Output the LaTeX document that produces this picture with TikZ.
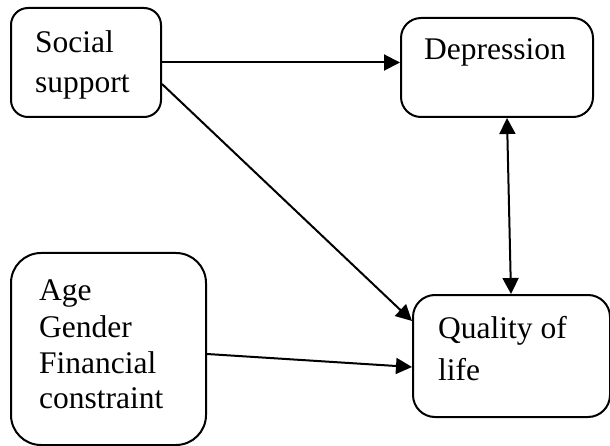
\documentclass[tikz,border=0pt]{standalone}
\usepackage{fontspec}
\setmainfont{Liberation Serif}
\usetikzlibrary{arrows.meta}
\begin{document}
\begin{tikzpicture}[x=1pt,y=-1pt,
  box/.style={draw=black,line width=2pt,inner sep=0pt,anchor=north west},
  txt/.style={anchor=base west,inner sep=0pt,font=\fontsize{31.5}{40}\selectfont},
  conn/.style={line width=2pt,-{Triangle[length=16pt,width=16pt]}},
  conn2/.style={line width=2pt,{Triangle[length=16pt,width=16pt]}-{Triangle[length=16pt,width=16pt]}}]
\useasboundingbox (0,0) rectangle (610,446);
% boxes
\node[box,minimum width=150pt,minimum height=109pt,rounded corners=17pt] (ss) at (10,7) {};
\node[box,minimum width=192pt,minimum height=99pt,rounded corners=20pt] (dep) at (400,17) {};
\node[box,minimum width=195pt,minimum height=192pt,rounded corners=30pt] (age) at (10,252) {};
\node[box,minimum width=197pt,minimum height=122pt,rounded corners=22pt] (qol) at (412,294) {};
% texts
\node[txt] (t1) at (35,53) {Social};
\node[txt] (t2) at (35,93) {support};
\node[txt] (t3) at (424,60) {Depression};
\node[txt] (t4) at (39,300) {Age};
\node[txt] (t5) at (39,337) {Gender};
\node[txt] (t6) at (39,373) {Financial};
\node[txt] (t7) at (39,408) {constraint};
\node[txt] (t8) at (438,338) {Quality of};
\node[txt] (t9) at (438,380) {life};
% connectors
\draw[conn] (ss.east) -- (dep.west |- ss.east);
\draw[conn] ([yshift=-21.5pt]ss.east) -- ([yshift=35pt]qol.west);
\draw[conn] ([yshift=-5pt]age.east) -- ([yshift=-11pt]qol.west);
\draw[conn2] ([xshift=10pt]dep.south) -- ([xshift=-0.5pt]qol.north);
\end{tikzpicture}
\end{document}
